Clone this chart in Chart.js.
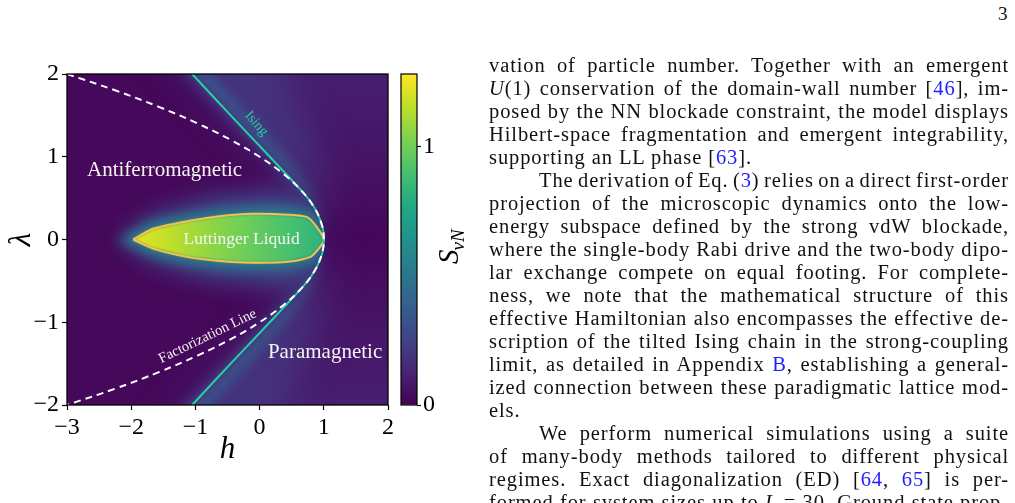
<!DOCTYPE html>
<html>
<head>
<meta charset="utf-8">
<title>Phase diagram</title>
<script src="https://cdn.jsdelivr.net/npm/chart.js@4.4.1/dist/chart.umd.min.js"></script>
<style>
  body { margin: 0; width: 1015px; height: 503px; overflow: hidden; background: #fff; position: relative; }
  #main, #cbar { position: absolute; top: 0; }
  #main { left: 0; }
  #cbar { left: 390px; }
  #page { position: absolute; left: 998px; top: 3px; font: 19px "Liberation Serif", serif; color: #111; }
  #text { position: absolute; left: 489px; top: 54px; width: 520px; font: 20.5px/23px "Liberation Serif", serif; color: #111; letter-spacing: 0.9px; }
  #text div { height: 23px; white-space: nowrap; }
  #text .j { display: inline-block; }
  #text .in { margin-left: 50px; }
  #text a { color: #1f1fff; text-decoration: none; }
</style>
</head>
<body>
<canvas id="main" width="400" height="480"></canvas>
<canvas id="cbar" width="100" height="480"></canvas>
<div id="page">3</div>
<div id="text">
  <div><span class="j">vation of particle number. Together with an emergent</span></div>
  <div><span class="j"><i>U</i>(1) conservation of the domain-wall number [<a>46</a>], im-</span></div>
  <div><span class="j">posed by the NN blockade constraint, the model displays</span></div>
  <div><span class="j">Hilbert-space fragmentation and emergent integrability,</span></div>
  <div><span>supporting an LL phase [<a>63</a>].</span></div>
  <div><span class="j in">The derivation of Eq. (<a>3</a>) relies on a direct first-order</span></div>
  <div><span class="j">projection of the microscopic dynamics onto the low-</span></div>
  <div><span class="j">energy subspace defined by the strong vdW blockade,</span></div>
  <div><span class="j">where the single-body Rabi drive and the two-body dipo-</span></div>
  <div><span class="j">lar exchange compete on equal footing. For complete-</span></div>
  <div><span class="j">ness, we note that the mathematical structure of this</span></div>
  <div><span class="j">effective Hamiltonian also encompasses the effective de-</span></div>
  <div><span class="j">scription of the tilted Ising chain in the strong-coupling</span></div>
  <div><span class="j">limit, as detailed in Appendix <a>B</a>, establishing a general-</span></div>
  <div><span class="j">ized connection between these paradigmatic lattice mod-</span></div>
  <div><span>els.</span></div>
  <div><span class="j in">We perform numerical simulations using a suite</span></div>
  <div><span class="j">of many-body methods tailored to different physical</span></div>
  <div><span class="j">regimes. Exact diagonalization (ED) [<a>64</a>, <a>65</a>] is per-</span></div>
  <div><span class="j">formed for system sizes up to <i>L</i> = 30. Ground state prop-</span></div>
</div>
<script>
// axes and colour scale
const xTicks = [-3, -2, -1, 0, 1, 2];
const yTicks = [-2, -1, 0, 1, 2];
const cbarTicks = [0, 1];
const cbarMax = 1.28;

// factorization line (white dashed)
const factLam = [2, 1.8, 1.6, 1.4, 1.2, 1.0, 0.8, 0.6, 0.4, 0.2, 0, -0.2, -0.4, -0.6, -0.8, -1.0, -1.2, -1.4, -1.6, -1.8, -2];
const factH = [-3, -2.24, -1.56, -0.96, -0.44, 0, 0.36, 0.64, 0.84, 0.96, 1, 0.96, 0.84, 0.64, 0.36, 0, -0.44, -0.96, -1.56, -2.24, -3];

// Ising critical line
const isingLam = [2, 1.5, 1.0, 0.6, 0.45, 0.3, 0.15, 0, -0.15, -0.3, -0.45, -0.6, -1.0, -1.5, -2];
const isingH = [-1.05, -0.45, 0.16, 0.64, 0.8, 0.91, 0.98, 1.0, 0.98, 0.91, 0.8, 0.64, 0.16, -0.45, -1.05];

// Luttinger liquid contour
const llH = [-1.97, -1.66, -1.13, -0.62, -0.10, 0.43, 0.74, 0.89, 1.0, 0.94, 0.79, 0.43, -0.10, -0.62, -1.13, -1.66, -1.97];
const llLam = [0, 0.13, 0.22, 0.28, 0.31, 0.30, 0.27, 0.15, 0, -0.09, -0.21, -0.27, -0.28, -0.26, -0.21, -0.11, 0];

// S_vN field, read as bands of roughly equal value
const bgS = 0.025;
const paraLam = [2, 1, 0, -1, -2];
const paraS = [0.11, 0.07, 0.02, 0.07, 0.11];
const bandLam = [2.6, 2, 1.5, 1, 0.6, 0.3, 0, -0.3, -0.6, -1, -1.5, -2, -2.6];
const bandInnerH = [-1.8, -1.05, -0.45, 0.16, 0.64, 0.91, 1.0, 0.91, 0.64, 0.16, -0.45, -1.05, -1.8];
const wideOuterH = [0.5, 0.35, 0.65, 0.88, 0.98, 1.02, 1.03, 1.02, 0.98, 0.88, 0.65, 0.35, 0.5];
const coreOuterH = [-1.2, -0.75, -0.15, 0.42, 0.78, 0.96, 1.0, 0.96, 0.78, 0.42, -0.15, -0.75, -1.2];
const wideS = 0.19, coreS = 0.33;
const haloH = [-2.2, -1.6, -0.8, 0.0, 0.6, 1.0, 1.0, 0.6, 0.0, -0.8, -1.6];
const haloLam = [0, 0.32, 0.5, 0.58, 0.58, 0.3, -0.3, -0.58, -0.55, -0.47, -0.3];
const haloS = 0.28, rimS = 0.52;
const blobGradH = [-2, -1.5, -0.5, 0.5, 1];
const blobGradS = [1.24, 1.17, 1.03, 0.9, 0.82];

const phaseLabels = [
  { text: 'Antiferromagnetic', h: -1.48, lam: 0.83, rot: 0, size: 21, color: '#f4f4f4' },
  { text: 'Luttinger Liquid', h: -0.28, lam: 0.0, rot: 0, size: 17.5, color: '#f4f4f4' },
  { text: 'Paramagnetic', h: 1.02, lam: -1.37, rot: 0, size: 21, color: '#f4f4f4' },
  { text: 'Factorization Line', h: -0.81, lam: -1.17, rot: -26, size: 14.5, color: '#f4f4f4' },
  { text: 'Ising', h: -0.05, lam: 1.40, rot: 49, size: 14, color: '#2bc9a6' }
];

const serif = '"Liberation Serif", serif';
const viridisStops = ['#440154', '#482475', '#414487', '#355f8d', '#2a788e', '#21918c', '#22a884', '#44bf70', '#7ad151', '#bddf26', '#fde725'];

function hexRgb(c) { return [1, 3, 5].map(i => parseInt(c.slice(i, i + 2), 16)); }
function viridis(s) {
  const n = viridisStops.length - 1;
  const t = Math.max(0, Math.min(1, s / cbarMax)) * n;
  const i = Math.min(Math.floor(t), n - 1), f = t - i;
  const a = hexRgb(viridisStops[i]), b = hexRgb(viridisStops[i + 1]);
  return 'rgb(' + a.map((v, k) => Math.round(v + (b[k] - v) * f)).join(',') + ')';
}
const pts = (hs, ls) => hs.map((h, i) => ({ x: h, y: ls[i] }));
const fmt = v => String(v).replace('-', '\u2212');

const fieldPlugin = {
  id: 'field',
  beforeDatasetsDraw(chart) {
    const { ctx, chartArea: a, scales: { x, y } } = chart;
    const X = h => x.getPixelForValue(h), Y = l => y.getPixelForValue(l);
    const path = p => {
      ctx.beginPath();
      p.forEach(([h, l], i) => i ? ctx.lineTo(X(h), Y(l)) : ctx.moveTo(X(h), Y(l)));
      ctx.closePath();
    };
    const ising = bandLam.map((l, i) => [bandInnerH[i], l]);
    const band = outer => ising.concat(bandLam.map((l, i) => [outer[i], l]).reverse());

    ctx.save();
    ctx.beginPath();
    ctx.rect(a.left, a.top, a.width, a.height);
    ctx.clip();
    ctx.fillStyle = viridis(bgS);
    ctx.fillRect(a.left, a.top, a.width, a.height);

    // paramagnetic side
    const g = ctx.createLinearGradient(0, Y(2), 0, Y(-2));
    paraLam.forEach((l, i) => g.addColorStop((Y(l) - Y(2)) / (Y(-2) - Y(2)), viridis(paraS[i])));
    ctx.filter = 'blur(8px)';
    path(ising.concat([[2.6, -2.6], [2.6, 2.6]]));
    ctx.fillStyle = g;
    ctx.fill();

    // glow along the Ising line
    ctx.filter = 'blur(18px)';
    path(band(wideOuterH));
    ctx.fillStyle = viridis(wideS);
    ctx.fill();
    ctx.filter = 'blur(6px)';
    path(band(coreOuterH));
    ctx.fillStyle = viridis(coreS);
    ctx.fill();

    // glow round the LL region, kept left of the Ising line
    const ll = llH.map((h, i) => [h, llLam[i]]);
    ctx.save();
    path(ising.concat([[-3.6, -2.6], [-3.6, 2.6]]));
    ctx.clip();
    ctx.filter = 'blur(12px)';
    path(haloH.map((h, i) => [h, haloLam[i]]));
    ctx.fillStyle = viridis(haloS);
    ctx.fill();
    ctx.filter = 'blur(6px)';
    path(ll);
    ctx.lineWidth = 14;
    ctx.strokeStyle = viridis(rimS);
    ctx.stroke();
    ctx.restore();

    const gb = ctx.createLinearGradient(X(-2), 0, X(1), 0);
    blobGradH.forEach((h, i) => gb.addColorStop((X(h) - X(-2)) / (X(1) - X(-2)), viridis(blobGradS[i])));
    ctx.filter = 'blur(1.5px)';
    path(ll);
    ctx.fillStyle = gb;
    ctx.fill();
    ctx.filter = 'none';
    ctx.restore();
  }
};

const labelPlugin = {
  id: 'labels',
  afterDatasetsDraw(chart) {
    const { ctx, scales: { x, y } } = chart;
    phaseLabels.forEach(p => {
      ctx.save();
      ctx.translate(x.getPixelForValue(p.h), y.getPixelForValue(p.lam));
      ctx.rotate(p.rot * Math.PI / 180);
      ctx.font = p.size + 'px ' + serif;
      ctx.fillStyle = p.color;
      ctx.textAlign = 'center';
      ctx.textBaseline = 'middle';
      ctx.fillText(p.text, 0, 0);
      ctx.restore();
    });
  },
  afterDraw(chart) {
    const { ctx, chartArea: a } = chart;
    ctx.save();
    ctx.strokeStyle = '#000';
    ctx.lineWidth = 1.3;
    ctx.strokeRect(a.left, a.top, a.width, a.height);
    ctx.restore();
  }
};

const tickFont = { family: serif, size: 24 };
const axisTicks = {
  grid: { drawOnChartArea: false, color: '#000', tickLength: 5, tickWidth: 1.2 },
  border: { display: false },
  ticks: { color: '#000', font: tickFont, padding: 3, maxRotation: 0, callback: v => fmt(v) }
};

new Chart(document.getElementById('main'), {
  type: 'scatter',
  data: {
    datasets: [
      { data: pts(factH, factLam), showLine: true, borderColor: '#ffffff', borderWidth: 2, borderDash: [7, 5], tension: 0.4, pointRadius: 0 },
      { data: pts(isingH, isingLam), showLine: true, borderColor: '#27cfa9', borderWidth: 2, tension: 0.3, pointRadius: 0 },
      { data: pts(llH, llLam), showLine: true, borderColor: '#f4c14e', borderWidth: 2, tension: 0.25, pointRadius: 0 }
    ]
  },
  options: {
    responsive: false,
    animation: false,
    layout: { padding: { top: 74, right: 12, left: 0, bottom: 0 } },
    plugins: { legend: { display: false }, tooltip: { enabled: false } },
    scales: {
      x: {
        type: 'linear', min: -3, max: 2,
        afterBuildTicks: s => { s.ticks = xTicks.map(v => ({ value: v })); },
        afterFit: s => { s.height = 75; },
        ...axisTicks,
        title: { display: true, text: 'h', color: '#000', font: { family: serif, size: 31, style: 'italic' }, padding: { top: 0, bottom: 12 } }
      },
      y: {
        type: 'linear', min: -2, max: 2,
        afterBuildTicks: s => { s.ticks = yTicks.map(v => ({ value: v })); },
        afterFit: s => { s.width = 67; },
        ...axisTicks,
        title: { display: true, text: '\u03bb', color: '#000', font: { family: serif, size: 31, style: 'italic', lineHeight: 1 }, padding: { top: 6, bottom: 0 } }
      }
    }
  },
  plugins: [fieldPlugin, labelPlugin]
});

const cbarPlugin = {
  id: 'cbarFrame',
  afterDraw(chart) {
    const { ctx, chartArea: a } = chart;
    ctx.save();
    ctx.strokeStyle = '#000';
    ctx.lineWidth = 1.2;
    ctx.strokeRect(a.left, a.top, a.width, a.height);
    // S_vN label, rotated
    ctx.translate(68, 264);
    ctx.rotate(-Math.PI / 2);
    ctx.fillStyle = '#000';
    ctx.textBaseline = 'alphabetic';
    ctx.font = 'italic 29px ' + serif;
    ctx.fillText('S', 0, 0);
    const w = ctx.measureText('S').width;
    ctx.font = 'italic 19px ' + serif;
    ctx.fillText('vN', w - 1, 6);
    ctx.restore();
  }
};

new Chart(document.getElementById('cbar'), {
  type: 'bar',
  data: {
    labels: [''],
    datasets: [{
      data: [cbarMax],
      borderWidth: 0,
      barPercentage: 1,
      categoryPercentage: 1,
      backgroundColor: c => {
        const a = c.chart.chartArea;
        if (!a) return viridis(cbarMax / 2);
        const g = c.chart.ctx.createLinearGradient(0, a.bottom, 0, a.top);
        viridisStops.forEach((col, i) => g.addColorStop(i / (viridisStops.length - 1), col));
        return g;
      }
    }]
  },
  options: {
    responsive: false,
    animation: false,
    layout: { padding: { left: 11, top: 74, bottom: 75, right: 0 } },
    plugins: { legend: { display: false }, tooltip: { enabled: false } },
    scales: {
      x: { display: false },
      y: {
        position: 'right', min: 0, max: cbarMax,
        afterBuildTicks: s => { s.ticks = cbarTicks.map(v => ({ value: v })); },
        afterFit: s => { s.width = 73; },
        grid: { drawOnChartArea: false, color: '#000', tickLength: 4, tickWidth: 1.2 },
        border: { display: false },
        ticks: { color: '#000', font: tickFont, padding: 2 }
      }
    }
  },
  plugins: [cbarPlugin]
});

// justify each typeset line to the column width
document.querySelectorAll('#text .j').forEach(el => {
  const target = 520 - (el.classList.contains('in') ? 50 : 0);
  const gaps = (el.textContent.match(/ /g) || []).length;
  const w = el.getBoundingClientRect().width;
  if (gaps) el.style.wordSpacing = ((target - w) / gaps) + 'px';
});
</script>
</body>
</html>
